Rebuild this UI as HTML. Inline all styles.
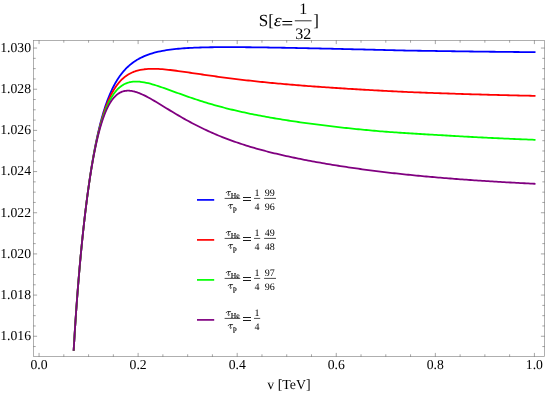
<!DOCTYPE html>
<html><head><meta charset="utf-8"><title>S plot</title>
<style>
html,body{margin:0;padding:0;background:#fff;}
body{width:545px;height:393px;overflow:hidden;font-family:"Liberation Serif",serif;}
svg{display:block;will-change:transform;transform:translateZ(0);}
svg text{font-family:"Liberation Serif",serif;fill:#000;text-rendering:geometricPrecision;}
</style></head><body>
<svg width="545" height="393" viewBox="0 0 545 393">
<rect x="0" y="0" width="545" height="393" fill="#fff"/>
<g fill="none">
<path d="M73.65,350.80 L74.15,342.19 L74.65,333.97 L75.15,326.09 L75.65,318.54 L76.15,311.29 L76.65,304.31 L77.15,297.57 L77.65,291.08 L78.15,284.79 L78.65,278.71 L79.15,272.81 L79.65,267.09 L80.15,261.53 L80.65,256.13 L81.15,250.88 L81.65,245.76 L82.15,240.78 L82.65,235.93 L83.15,231.20 L83.65,226.59 L84.15,222.09 L84.65,217.70 L85.15,213.43 L85.65,209.25 L86.15,205.18 L86.65,201.20 L87.15,197.32 L87.65,193.54 L88.15,189.85 L88.65,186.25 L89.15,182.73 L89.65,179.30 L90.15,175.96 L90.65,172.70 L91.15,169.51 L91.65,166.41 L92.15,163.39 L92.65,160.44 L93.15,157.56 L93.65,154.76 L94.15,152.03 L94.65,149.36 L95.15,146.77 L95.65,144.24 L96.15,141.77 L96.65,139.37 L97.15,137.03 L97.65,134.76 L98.15,132.54 L98.65,130.37 L99.15,128.27 L99.65,126.22 L100.15,124.22 L100.65,122.27 L101.15,120.38 L101.65,118.53 L102.15,116.74 L102.65,114.99 L103.15,113.28 L103.65,111.62 L104.15,110.01 L104.65,108.44 L105.15,106.90 L105.65,105.41 L106.15,103.96 L106.65,102.55 L107.15,101.17 L107.65,99.83 L108.15,98.52 L108.65,97.25 L109.15,96.01 L109.65,94.81 L110.15,93.63 L110.65,92.49 L111.15,91.38 L111.65,90.29 L112.15,89.23 L112.65,88.21 L113.15,87.20 L113.65,86.23 L114.15,85.27 L114.65,84.35 L115.15,83.44 L115.65,82.57 L116.15,81.71 L116.65,80.87 L117.15,80.06 L117.65,79.27 L118.15,78.49 L118.65,77.74 L119.15,77.01 L119.65,76.29 L120.15,75.59 L120.65,74.91 L121.15,74.25 L121.65,73.60 L122.15,72.97 L122.65,72.36 L123.15,71.76 L123.65,71.17 L124.15,70.61 L124.65,70.05 L125.15,69.51 L125.65,68.98 L126.15,68.46 L126.65,67.96 L127.15,67.47 L127.65,66.99 L128.15,66.52 L128.65,66.07 L129.15,65.62 L129.65,65.19 L130.15,64.77 L130.65,64.35 L131.15,63.95 L131.65,63.56 L132.15,63.17 L132.65,62.80 L133.15,62.43 L133.65,62.07 L134.15,61.73 L134.65,61.38 L135.15,61.05 L135.65,60.73 L136.15,60.41 L136.65,60.10 L137.15,59.80 L137.65,59.50 L138.15,59.21 L138.65,58.93 L139.15,58.66 L139.65,58.39 L140.15,58.13 L140.30,58.05 L142.30,57.07 L144.30,56.17 L146.30,55.35 L148.30,54.60 L150.30,53.92 L152.30,53.30 L154.30,52.73 L156.30,52.21 L158.30,51.74 L160.30,51.31 L162.30,50.91 L164.30,50.55 L166.30,50.21 L168.30,49.91 L170.30,49.63 L172.30,49.38 L174.30,49.15 L176.30,48.94 L178.30,48.74 L180.30,48.57 L182.30,48.41 L184.30,48.26 L186.30,48.13 L188.30,48.00 L190.30,47.90 L192.30,47.80 L194.30,47.71 L196.30,47.63 L198.30,47.55 L200.30,47.49 L202.30,47.43 L204.30,47.38 L206.30,47.33 L208.30,47.30 L210.30,47.26 L212.30,47.23 L214.30,47.21 L216.30,47.19 L218.30,47.17 L220.30,47.16 L222.30,47.15 L224.30,47.14 L226.30,47.14 L228.30,47.14 L230.30,47.14 L232.30,47.14 L234.30,47.15 L236.30,47.16 L238.30,47.17 L240.30,47.18 L242.30,47.19 L244.30,47.21 L246.30,47.23 L248.30,47.25 L250.30,47.27 L252.30,47.29 L254.30,47.31 L256.30,47.34 L258.30,47.36 L260.30,47.39 L262.30,47.42 L264.30,47.44 L266.30,47.47 L268.30,47.50 L270.30,47.53 L272.30,47.57 L274.30,47.60 L276.30,47.63 L278.30,47.67 L280.30,47.70 L282.30,47.74 L284.30,47.77 L286.30,47.81 L288.30,47.84 L290.30,47.88 L292.30,47.92 L294.30,47.96 L296.30,48.00 L298.30,48.04 L300.30,48.08 L302.30,48.12 L304.30,48.16 L306.30,48.20 L308.30,48.24 L310.30,48.28 L312.30,48.33 L314.30,48.37 L316.30,48.41 L318.30,48.46 L320.30,48.50 L322.30,48.54 L324.30,48.59 L326.30,48.63 L328.30,48.68 L330.30,48.72 L332.30,48.77 L334.30,48.81 L336.30,48.86 L338.30,48.91 L340.30,48.95 L342.30,49.00 L344.30,49.04 L346.30,49.09 L348.30,49.14 L350.30,49.19 L352.30,49.23 L354.30,49.28 L356.30,49.33 L358.30,49.38 L360.30,49.43 L362.30,49.47 L364.30,49.52 L366.30,49.57 L368.30,49.62 L370.30,49.67 L372.30,49.72 L374.30,49.77 L376.30,49.81 L378.30,49.86 L380.30,49.91 L382.30,49.96 L384.30,50.01 L386.30,50.06 L388.30,50.11 L390.30,50.16 L392.30,50.21 L394.30,50.26 L396.30,50.31 L398.30,50.36 L400.30,50.41 L402.30,50.46 L404.30,50.50 L406.30,50.54 L408.30,50.58 L410.30,50.61 L412.30,50.64 L414.30,50.67 L416.30,50.70 L418.30,50.73 L420.30,50.76 L422.30,50.79 L424.30,50.82 L426.30,50.85 L428.30,50.88 L430.30,50.91 L432.30,50.94 L434.30,50.97 L436.30,51.00 L438.30,51.03 L440.30,51.06 L442.30,51.09 L444.30,51.12 L446.30,51.15 L448.30,51.17 L450.30,51.20 L452.30,51.23 L454.30,51.26 L456.30,51.29 L458.30,51.31 L460.30,51.34 L462.30,51.37 L464.30,51.40 L466.30,51.42 L468.30,51.45 L470.30,51.48 L472.30,51.50 L474.30,51.53 L476.30,51.55 L478.30,51.58 L480.30,51.60 L482.30,51.63 L484.30,51.65 L486.30,51.68 L488.30,51.70 L490.30,51.73 L492.30,51.75 L494.30,51.77 L496.30,51.80 L498.30,51.82 L500.30,51.84 L502.30,51.86 L504.30,51.88 L506.30,51.90 L508.30,51.92 L510.30,51.94 L512.30,51.96 L514.30,51.98 L516.30,52.00 L518.30,52.02 L520.30,52.04 L522.30,52.06 L524.30,52.08 L526.30,52.09 L528.30,52.11 L530.30,52.13 L532.30,52.14 L534.30,52.16 L535.50,52.17" fill="none" stroke="#0000ff" stroke-width="1.8" stroke-linejoin="round" stroke-linecap="butt"/>
<path d="M73.65,350.80 L74.15,342.19 L74.65,333.97 L75.15,326.09 L75.65,318.54 L76.15,311.29 L76.65,304.31 L77.15,297.58 L77.65,291.08 L78.15,284.80 L78.65,278.72 L79.15,272.82 L79.65,267.10 L80.15,261.55 L80.65,256.15 L81.15,250.90 L81.65,245.79 L82.15,240.82 L82.65,235.97 L83.15,231.25 L83.65,226.64 L84.15,222.15 L84.65,217.78 L85.15,213.51 L85.65,209.34 L86.15,205.28 L86.65,201.32 L87.15,197.46 L87.65,193.69 L88.15,190.02 L88.65,186.44 L89.15,182.94 L89.65,179.54 L90.15,176.22 L90.65,172.98 L91.15,169.83 L91.65,166.76 L92.15,163.76 L92.65,160.85 L93.15,158.01 L93.65,155.25 L94.15,152.55 L94.65,149.93 L95.15,147.38 L95.65,144.90 L96.15,142.49 L96.65,140.14 L97.15,137.86 L97.65,135.63 L98.15,133.47 L98.65,131.37 L99.15,129.33 L99.65,127.35 L100.15,125.42 L100.65,123.54 L101.15,121.72 L101.65,119.95 L102.15,118.23 L102.65,116.57 L103.15,114.95 L103.65,113.37 L104.15,111.84 L104.65,110.36 L105.15,108.92 L105.65,107.53 L106.15,106.17 L106.65,104.86 L107.15,103.58 L107.65,102.34 L108.15,101.14 L108.65,99.98 L109.15,98.85 L109.65,97.75 L110.15,96.69 L110.65,95.67 L111.15,94.67 L111.65,93.70 L112.15,92.77 L112.65,91.86 L113.15,90.98 L113.65,90.13 L114.15,89.31 L114.65,88.51 L115.15,87.74 L115.65,86.99 L116.15,86.26 L116.65,85.56 L117.15,84.89 L117.65,84.23 L118.15,83.59 L118.65,82.98 L119.15,82.39 L119.65,81.81 L120.15,81.26 L120.65,80.72 L121.15,80.21 L121.65,79.70 L122.15,79.22 L122.65,78.75 L123.15,78.30 L123.65,77.87 L124.15,77.45 L124.65,77.04 L125.15,76.65 L125.65,76.28 L126.15,75.91 L126.65,75.56 L127.15,75.23 L127.65,74.90 L128.15,74.59 L128.65,74.29 L129.15,74.00 L129.65,73.72 L130.15,73.45 L130.65,73.19 L131.15,72.95 L131.65,72.71 L132.15,72.48 L132.65,72.26 L133.15,72.05 L133.65,71.85 L134.15,71.66 L134.65,71.48 L135.15,71.30 L135.65,71.14 L136.15,70.98 L136.65,70.82 L137.15,70.68 L137.65,70.54 L138.15,70.41 L138.65,70.28 L139.15,70.16 L139.65,70.05 L140.15,69.94 L140.30,69.91 L142.30,69.55 L144.30,69.27 L146.30,69.06 L148.30,68.92 L150.30,68.84 L152.30,68.80 L154.30,68.81 L156.30,68.87 L158.30,68.95 L160.30,69.07 L162.30,69.22 L164.30,69.39 L166.30,69.58 L168.30,69.79 L170.30,70.01 L172.30,70.25 L174.30,70.50 L176.30,70.76 L178.30,71.03 L180.30,71.30 L182.30,71.58 L184.30,71.87 L186.30,72.16 L188.30,72.45 L190.30,72.74 L192.30,73.04 L194.30,73.33 L196.30,73.63 L198.30,73.92 L200.30,74.22 L202.30,74.51 L204.30,74.80 L206.30,75.09 L208.30,75.38 L210.30,75.66 L212.30,75.94 L214.30,76.22 L216.30,76.50 L218.30,76.77 L220.30,77.05 L222.30,77.31 L224.30,77.58 L226.30,77.84 L228.30,78.10 L230.30,78.35 L232.30,78.60 L234.30,78.85 L236.30,79.10 L238.30,79.34 L240.30,79.58 L242.30,79.81 L244.30,80.04 L246.30,80.27 L248.30,80.50 L250.30,80.72 L252.30,80.94 L254.30,81.16 L256.30,81.37 L258.30,81.58 L260.30,81.79 L262.30,81.99 L264.30,82.20 L266.30,82.39 L268.30,82.59 L270.30,82.78 L272.30,82.98 L274.30,83.16 L276.30,83.35 L278.30,83.53 L280.30,83.72 L282.30,83.90 L284.30,84.07 L286.30,84.25 L288.30,84.42 L290.30,84.59 L292.30,84.76 L294.30,84.92 L296.30,85.09 L298.30,85.25 L300.30,85.41 L302.30,85.57 L304.30,85.73 L306.30,85.88 L308.30,86.03 L310.30,86.18 L312.30,86.33 L314.30,86.48 L316.30,86.63 L318.30,86.77 L320.30,86.92 L322.30,87.06 L324.30,87.20 L326.30,87.34 L328.30,87.47 L330.30,87.61 L332.30,87.74 L334.30,87.88 L336.30,88.01 L338.30,88.14 L340.30,88.27 L342.30,88.40 L344.30,88.52 L346.30,88.65 L348.30,88.78 L350.30,88.90 L352.30,89.02 L354.30,89.14 L356.30,89.26 L358.30,89.38 L360.30,89.50 L362.30,89.62 L364.30,89.73 L366.30,89.85 L368.30,89.96 L370.30,90.08 L372.30,90.19 L374.30,90.30 L376.30,90.41 L378.30,90.52 L380.30,90.63 L382.30,90.73 L384.30,90.84 L386.30,90.95 L388.30,91.05 L390.30,91.16 L392.30,91.26 L394.30,91.36 L396.30,91.47 L398.30,91.57 L400.30,91.67 L402.30,91.77 L404.30,91.86 L406.30,91.95 L408.30,92.04 L410.30,92.12 L412.30,92.20 L414.30,92.28 L416.30,92.36 L418.30,92.43 L420.30,92.51 L422.30,92.59 L424.30,92.67 L426.30,92.74 L428.30,92.81 L430.30,92.89 L432.30,92.96 L434.30,93.03 L436.30,93.11 L438.30,93.18 L440.30,93.25 L442.30,93.32 L444.30,93.39 L446.30,93.46 L448.30,93.52 L450.30,93.59 L452.30,93.66 L454.30,93.72 L456.30,93.79 L458.30,93.85 L460.30,93.92 L462.30,93.98 L464.30,94.04 L466.30,94.10 L468.30,94.17 L470.30,94.23 L472.30,94.29 L474.30,94.35 L476.30,94.40 L478.30,94.46 L480.30,94.52 L482.30,94.58 L484.30,94.63 L486.30,94.69 L488.30,94.74 L490.30,94.80 L492.30,94.85 L494.30,94.90 L496.30,94.96 L498.30,95.01 L500.30,95.06 L502.30,95.11 L504.30,95.16 L506.30,95.21 L508.30,95.26 L510.30,95.30 L512.30,95.35 L514.30,95.40 L516.30,95.44 L518.30,95.49 L520.30,95.53 L522.30,95.58 L524.30,95.62 L526.30,95.66 L528.30,95.70 L530.30,95.74 L532.30,95.78 L534.30,95.82 L535.50,95.85" fill="none" stroke="#ff0000" stroke-width="1.8" stroke-linejoin="round" stroke-linecap="butt"/>
<path d="M73.65,350.80 L74.15,342.19 L74.65,333.97 L75.15,326.10 L75.65,318.55 L76.15,311.29 L76.65,304.31 L77.15,297.58 L77.65,291.09 L78.15,284.81 L78.65,278.73 L79.15,272.83 L79.65,267.12 L80.15,261.57 L80.65,256.17 L81.15,250.93 L81.65,245.82 L82.15,240.85 L82.65,236.01 L83.15,231.29 L83.65,226.69 L84.15,222.21 L84.65,217.85 L85.15,213.59 L85.65,209.44 L86.15,205.39 L86.65,201.44 L87.15,197.59 L87.65,193.84 L88.15,190.19 L88.65,186.63 L89.15,183.15 L89.65,179.77 L90.15,176.48 L90.65,173.27 L91.15,170.14 L91.65,167.10 L92.15,164.14 L92.65,161.26 L93.15,158.46 L93.65,155.73 L94.15,153.08 L94.65,150.51 L95.15,148.00 L95.65,145.57 L96.15,143.20 L96.65,140.91 L97.15,138.68 L97.65,136.51 L98.15,134.41 L98.65,132.37 L99.15,130.39 L99.65,128.48 L100.15,126.62 L100.65,124.81 L101.15,123.06 L101.65,121.37 L102.15,119.73 L102.65,118.14 L103.15,116.61 L103.65,115.12 L104.15,113.68 L104.65,112.29 L105.15,110.94 L105.65,109.64 L106.15,108.38 L106.65,107.16 L107.15,105.99 L107.65,104.85 L108.15,103.76 L108.65,102.70 L109.15,101.68 L109.65,100.70 L110.15,99.75 L110.65,98.84 L111.15,97.96 L111.65,97.11 L112.15,96.30 L112.65,95.51 L113.15,94.76 L113.65,94.03 L114.15,93.34 L114.65,92.67 L115.15,92.03 L115.65,91.41 L116.15,90.82 L116.65,90.25 L117.15,89.71 L117.65,89.19 L118.15,88.69 L118.65,88.22 L119.15,87.77 L119.65,87.34 L120.15,86.92 L120.65,86.53 L121.15,86.16 L121.65,85.80 L122.15,85.47 L122.65,85.15 L123.15,84.84 L123.65,84.56 L124.15,84.29 L124.65,84.03 L125.15,83.79 L125.65,83.57 L126.15,83.36 L126.65,83.16 L127.15,82.98 L127.65,82.81 L128.15,82.65 L128.65,82.50 L129.15,82.37 L129.65,82.24 L130.15,82.13 L130.65,82.03 L131.15,81.94 L131.65,81.86 L132.15,81.79 L132.65,81.72 L133.15,81.67 L133.65,81.63 L134.15,81.59 L134.65,81.57 L135.15,81.55 L135.65,81.54 L136.15,81.53 L136.65,81.54 L137.15,81.55 L137.65,81.57 L138.15,81.59 L138.65,81.62 L139.15,81.66 L139.65,81.70 L140.15,81.75 L140.30,81.77 L142.30,82.02 L144.30,82.36 L146.30,82.76 L148.30,83.22 L150.30,83.73 L152.30,84.29 L154.30,84.88 L156.30,85.50 L158.30,86.14 L160.30,86.81 L162.30,87.50 L164.30,88.20 L166.30,88.91 L168.30,89.63 L170.30,90.35 L172.30,91.07 L174.30,91.80 L176.30,92.53 L178.30,93.25 L180.30,93.97 L182.30,94.69 L184.30,95.40 L186.30,96.10 L188.30,96.80 L190.30,97.49 L192.30,98.17 L194.30,98.85 L196.30,99.51 L198.30,100.16 L200.30,100.81 L202.30,101.44 L204.30,102.07 L206.30,102.68 L208.30,103.28 L210.30,103.88 L212.30,104.46 L214.30,105.03 L216.30,105.60 L218.30,106.15 L220.30,106.69 L222.30,107.23 L224.30,107.75 L226.30,108.27 L228.30,108.77 L230.30,109.27 L232.30,109.75 L234.30,110.23 L236.30,110.70 L238.30,111.16 L240.30,111.61 L242.30,112.06 L244.30,112.49 L246.30,112.92 L248.30,113.34 L250.30,113.76 L252.30,114.17 L254.30,114.57 L256.30,114.96 L258.30,115.35 L260.30,115.73 L262.30,116.10 L264.30,116.47 L266.30,116.84 L268.30,117.19 L270.30,117.55 L272.30,117.89 L274.30,118.24 L276.30,118.57 L278.30,118.90 L280.30,119.23 L282.30,119.56 L284.30,119.88 L286.30,120.19 L288.30,120.50 L290.30,120.81 L292.30,121.11 L294.30,121.41 L296.30,121.70 L298.30,122.00 L300.30,122.28 L302.30,122.57 L304.30,122.85 L306.30,123.12 L308.30,123.40 L310.30,123.67 L312.30,123.94 L314.30,124.20 L316.30,124.46 L318.30,124.72 L320.30,124.97 L322.30,125.22 L324.30,125.47 L326.30,125.72 L328.30,125.96 L330.30,126.20 L332.30,126.43 L334.30,126.67 L336.30,126.90 L338.30,127.12 L340.30,127.35 L342.30,127.57 L344.30,127.79 L346.30,128.00 L348.30,128.22 L350.30,128.43 L352.30,128.63 L354.30,128.84 L356.30,129.04 L358.30,129.24 L360.30,129.44 L362.30,129.63 L364.30,129.83 L366.30,130.02 L368.30,130.20 L370.30,130.39 L372.30,130.57 L374.30,130.75 L376.30,130.93 L378.30,131.10 L380.30,131.28 L382.30,131.43 L384.30,131.58 L386.30,131.73 L388.30,131.88 L390.30,132.03 L392.30,132.17 L394.30,132.32 L396.30,132.46 L398.30,132.60 L400.30,132.73 L402.30,132.87 L404.30,133.00 L406.30,133.14 L408.30,133.27 L410.30,133.39 L412.30,133.52 L414.30,133.65 L416.30,133.77 L418.30,133.89 L420.30,134.02 L422.30,134.14 L424.30,134.25 L426.30,134.37 L428.30,134.49 L430.30,134.60 L432.30,134.71 L434.30,134.82 L436.30,134.93 L438.30,135.04 L440.30,135.15 L442.30,135.27 L444.30,135.40 L446.30,135.52 L448.30,135.64 L450.30,135.75 L452.30,135.87 L454.30,135.99 L456.30,136.10 L458.30,136.22 L460.30,136.33 L462.30,136.44 L464.30,136.55 L466.30,136.66 L468.30,136.77 L470.30,136.88 L472.30,136.98 L474.30,137.09 L476.30,137.19 L478.30,137.29 L480.30,137.40 L482.30,137.50 L484.30,137.60 L486.30,137.70 L488.30,137.79 L490.30,137.89 L492.30,137.99 L494.30,138.08 L496.30,138.18 L498.30,138.27 L500.30,138.36 L502.30,138.45 L504.30,138.54 L506.30,138.63 L508.30,138.72 L510.30,138.81 L512.30,138.89 L514.30,138.98 L516.30,139.06 L518.30,139.15 L520.30,139.23 L522.30,139.31 L524.30,139.39 L526.30,139.47 L528.30,139.55 L530.30,139.63 L532.30,139.71 L534.30,139.78 L535.50,139.83" fill="none" stroke="#00ff00" stroke-width="1.8" stroke-linejoin="round" stroke-linecap="butt"/>
<path d="M73.65,350.80 L74.15,342.19 L74.65,333.97 L75.15,326.10 L75.65,318.55 L76.15,311.29 L76.65,304.31 L77.15,297.59 L77.65,291.09 L78.15,284.81 L78.65,278.73 L79.15,272.84 L79.65,267.13 L80.15,261.58 L80.65,256.19 L81.15,250.95 L81.65,245.84 L82.15,240.88 L82.65,236.04 L83.15,231.33 L83.65,226.74 L84.15,222.27 L84.65,217.91 L85.15,213.67 L85.65,209.53 L86.15,205.49 L86.65,201.56 L87.15,197.72 L87.65,193.99 L88.15,190.35 L88.65,186.81 L89.15,183.36 L89.65,180.00 L90.15,176.73 L90.65,173.55 L91.15,170.45 L91.65,167.44 L92.15,164.51 L92.65,161.67 L93.15,158.90 L93.65,156.21 L94.15,153.60 L94.65,151.07 L95.15,148.61 L95.65,146.22 L96.15,143.91 L96.65,141.67 L97.15,139.49 L97.65,137.38 L98.15,135.34 L98.65,133.36 L99.15,131.45 L99.65,129.60 L100.15,127.80 L100.65,126.07 L101.15,124.40 L101.65,122.78 L102.15,121.22 L102.65,119.71 L103.15,118.26 L103.65,116.86 L104.15,115.50 L104.65,114.20 L105.15,112.95 L105.65,111.74 L106.15,110.58 L106.65,109.46 L107.15,108.39 L107.65,107.35 L108.15,106.37 L108.65,105.42 L109.15,104.51 L109.65,103.63 L110.15,102.80 L110.65,102.00 L111.15,101.24 L111.65,100.51 L112.15,99.81 L112.65,99.15 L113.15,98.52 L113.65,97.92 L114.15,97.35 L114.65,96.81 L115.15,96.30 L115.65,95.81 L116.15,95.36 L116.65,94.92 L117.15,94.52 L117.65,94.13 L118.15,93.78 L118.65,93.44 L119.15,93.13 L119.65,92.84 L120.15,92.57 L120.65,92.32 L121.15,92.09 L121.65,91.88 L122.15,91.69 L122.65,91.52 L123.15,91.36 L123.65,91.23 L124.15,91.11 L124.65,91.00 L125.15,90.91 L125.65,90.84 L126.15,90.78 L126.65,90.73 L127.15,90.70 L127.65,90.69 L128.15,90.68 L128.65,90.69 L129.15,90.71 L129.65,90.74 L130.15,90.78 L130.65,90.84 L131.15,90.90 L131.65,90.98 L132.15,91.06 L132.65,91.15 L133.15,91.26 L133.65,91.37 L134.15,91.49 L134.65,91.62 L135.15,91.76 L135.65,91.90 L136.15,92.06 L136.65,92.22 L137.15,92.39 L137.65,92.56 L138.15,92.74 L138.65,92.93 L139.15,93.12 L139.65,93.32 L140.15,93.52 L140.30,93.58 L142.30,94.46 L144.30,95.41 L146.30,96.41 L148.30,97.48 L150.30,98.58 L152.30,99.72 L154.30,100.88 L156.30,102.07 L158.30,103.27 L160.30,104.49 L162.30,105.71 L164.30,106.94 L166.30,108.17 L168.30,109.39 L170.30,110.61 L172.30,111.82 L174.30,113.02 L176.30,114.21 L178.30,115.39 L180.30,116.56 L182.30,117.71 L184.30,118.85 L186.30,119.96 L188.30,121.07 L190.30,122.15 L192.30,123.22 L194.30,124.27 L196.30,125.30 L198.30,126.31 L200.30,127.31 L202.30,128.29 L204.30,129.24 L206.30,130.18 L208.30,131.11 L210.30,132.01 L212.30,132.90 L214.30,133.77 L216.30,134.62 L218.30,135.46 L220.30,136.27 L222.30,137.08 L224.30,137.86 L226.30,138.63 L228.30,139.39 L230.30,140.13 L232.30,140.85 L234.30,141.57 L236.30,142.26 L238.30,142.94 L240.30,143.61 L242.30,144.27 L244.30,144.91 L246.30,145.55 L248.30,146.16 L250.30,146.77 L252.30,147.37 L254.30,147.95 L256.30,148.53 L258.30,149.09 L260.30,149.64 L262.30,150.19 L264.30,150.72 L266.30,151.25 L268.30,151.76 L270.30,152.27 L272.30,152.77 L274.30,153.26 L276.30,153.74 L278.30,154.21 L280.30,154.68 L282.30,155.14 L284.30,155.59 L286.30,156.04 L288.30,156.48 L290.30,156.91 L292.30,157.33 L294.30,157.75 L296.30,158.17 L298.30,158.58 L300.30,158.98 L302.30,159.38 L304.30,159.77 L306.30,160.16 L308.30,160.54 L310.30,160.92 L312.30,161.29 L314.30,161.66 L316.30,162.02 L318.30,162.38 L320.30,162.73 L322.30,163.08 L324.30,163.43 L326.30,163.77 L328.30,164.11 L330.30,164.44 L332.30,164.77 L334.30,165.10 L336.30,165.42 L338.30,165.74 L340.30,166.05 L342.30,166.36 L344.30,166.67 L346.30,166.97 L348.30,167.27 L350.30,167.57 L352.30,167.86 L354.30,168.15 L356.30,168.43 L358.30,168.72 L360.30,169.00 L362.30,169.27 L364.30,169.54 L366.30,169.81 L368.30,170.08 L370.30,170.34 L372.30,170.60 L374.30,170.86 L376.30,171.11 L378.30,171.36 L380.30,171.61 L382.30,171.85 L384.30,172.09 L386.30,172.33 L388.30,172.56 L390.30,172.79 L392.30,173.02 L394.30,173.25 L396.30,173.47 L398.30,173.69 L400.30,173.91 L402.30,174.12 L404.30,174.33 L406.30,174.54 L408.30,174.75 L410.30,174.95 L412.30,175.15 L414.30,175.35 L416.30,175.54 L418.30,175.74 L420.30,175.93 L422.30,176.12 L424.30,176.30 L426.30,176.49 L428.30,176.67 L430.30,176.85 L432.30,177.02 L434.30,177.20 L436.30,177.37 L438.30,177.54 L440.30,177.71 L442.30,177.87 L444.30,178.04 L446.30,178.20 L448.30,178.36 L450.30,178.52 L452.30,178.67 L454.30,178.83 L456.30,178.98 L458.30,179.13 L460.30,179.28 L462.30,179.43 L464.30,179.57 L466.30,179.72 L468.30,179.86 L470.30,180.00 L472.30,180.14 L474.30,180.28 L476.30,180.41 L478.30,180.55 L480.30,180.68 L482.30,180.81 L484.30,180.94 L486.30,181.07 L488.30,181.20 L490.30,181.32 L492.30,181.45 L494.30,181.57 L496.30,181.69 L498.30,181.81 L500.30,181.93 L502.30,182.05 L504.30,182.16 L506.30,182.28 L508.30,182.39 L510.30,182.50 L512.30,182.61 L514.30,182.72 L516.30,182.83 L518.30,182.94 L520.30,183.04 L522.30,183.15 L524.30,183.25 L526.30,183.35 L528.30,183.45 L530.30,183.55 L532.30,183.65 L534.30,183.75 L535.50,183.81" fill="none" stroke="#800080" stroke-width="1.8" stroke-linejoin="round" stroke-linecap="butt"/>
</g>
<g stroke="#000" stroke-opacity="0.45" stroke-width="0.7" fill="none">
<rect x="33.5" y="40.5" width="511.0" height="316.0"/>
</g>
<g stroke="#000" stroke-opacity="0.6" stroke-width="0.6" fill="none">
<line x1="39.05" y1="356.50" x2="39.05" y2="352.90"/><line x1="39.05" y1="40.50" x2="39.05" y2="44.10"/><line x1="63.82" y1="356.50" x2="63.82" y2="354.30"/><line x1="63.82" y1="40.50" x2="63.82" y2="42.70"/><line x1="88.59" y1="356.50" x2="88.59" y2="354.30"/><line x1="88.59" y1="40.50" x2="88.59" y2="42.70"/><line x1="113.35" y1="356.50" x2="113.35" y2="354.30"/><line x1="113.35" y1="40.50" x2="113.35" y2="42.70"/><line x1="138.12" y1="356.50" x2="138.12" y2="352.90"/><line x1="138.12" y1="40.50" x2="138.12" y2="44.10"/><line x1="162.89" y1="356.50" x2="162.89" y2="354.30"/><line x1="162.89" y1="40.50" x2="162.89" y2="42.70"/><line x1="187.66" y1="356.50" x2="187.66" y2="354.30"/><line x1="187.66" y1="40.50" x2="187.66" y2="42.70"/><line x1="212.42" y1="356.50" x2="212.42" y2="354.30"/><line x1="212.42" y1="40.50" x2="212.42" y2="42.70"/><line x1="237.19" y1="356.50" x2="237.19" y2="352.90"/><line x1="237.19" y1="40.50" x2="237.19" y2="44.10"/><line x1="261.96" y1="356.50" x2="261.96" y2="354.30"/><line x1="261.96" y1="40.50" x2="261.96" y2="42.70"/><line x1="286.73" y1="356.50" x2="286.73" y2="354.30"/><line x1="286.73" y1="40.50" x2="286.73" y2="42.70"/><line x1="311.49" y1="356.50" x2="311.49" y2="354.30"/><line x1="311.49" y1="40.50" x2="311.49" y2="42.70"/><line x1="336.26" y1="356.50" x2="336.26" y2="352.90"/><line x1="336.26" y1="40.50" x2="336.26" y2="44.10"/><line x1="361.03" y1="356.50" x2="361.03" y2="354.30"/><line x1="361.03" y1="40.50" x2="361.03" y2="42.70"/><line x1="385.80" y1="356.50" x2="385.80" y2="354.30"/><line x1="385.80" y1="40.50" x2="385.80" y2="42.70"/><line x1="410.56" y1="356.50" x2="410.56" y2="354.30"/><line x1="410.56" y1="40.50" x2="410.56" y2="42.70"/><line x1="435.33" y1="356.50" x2="435.33" y2="352.90"/><line x1="435.33" y1="40.50" x2="435.33" y2="44.10"/><line x1="460.10" y1="356.50" x2="460.10" y2="354.30"/><line x1="460.10" y1="40.50" x2="460.10" y2="42.70"/><line x1="484.87" y1="356.50" x2="484.87" y2="354.30"/><line x1="484.87" y1="40.50" x2="484.87" y2="42.70"/><line x1="509.63" y1="356.50" x2="509.63" y2="354.30"/><line x1="509.63" y1="40.50" x2="509.63" y2="42.70"/><line x1="534.40" y1="356.50" x2="534.40" y2="352.90"/><line x1="534.40" y1="40.50" x2="534.40" y2="44.10"/><line x1="33.50" y1="346.55" x2="35.70" y2="346.55"/><line x1="544.50" y1="346.55" x2="542.30" y2="346.55"/><line x1="33.50" y1="336.25" x2="37.10" y2="336.25"/><line x1="544.50" y1="336.25" x2="540.90" y2="336.25"/><line x1="33.50" y1="325.96" x2="35.70" y2="325.96"/><line x1="544.50" y1="325.96" x2="542.30" y2="325.96"/><line x1="33.50" y1="315.67" x2="35.70" y2="315.67"/><line x1="544.50" y1="315.67" x2="542.30" y2="315.67"/><line x1="33.50" y1="305.38" x2="35.70" y2="305.38"/><line x1="544.50" y1="305.38" x2="542.30" y2="305.38"/><line x1="33.50" y1="295.08" x2="37.10" y2="295.08"/><line x1="544.50" y1="295.08" x2="540.90" y2="295.08"/><line x1="33.50" y1="284.79" x2="35.70" y2="284.79"/><line x1="544.50" y1="284.79" x2="542.30" y2="284.79"/><line x1="33.50" y1="274.50" x2="35.70" y2="274.50"/><line x1="544.50" y1="274.50" x2="542.30" y2="274.50"/><line x1="33.50" y1="264.20" x2="35.70" y2="264.20"/><line x1="544.50" y1="264.20" x2="542.30" y2="264.20"/><line x1="33.50" y1="253.91" x2="37.10" y2="253.91"/><line x1="544.50" y1="253.91" x2="540.90" y2="253.91"/><line x1="33.50" y1="243.62" x2="35.70" y2="243.62"/><line x1="544.50" y1="243.62" x2="542.30" y2="243.62"/><line x1="33.50" y1="233.32" x2="35.70" y2="233.32"/><line x1="544.50" y1="233.32" x2="542.30" y2="233.32"/><line x1="33.50" y1="223.03" x2="35.70" y2="223.03"/><line x1="544.50" y1="223.03" x2="542.30" y2="223.03"/><line x1="33.50" y1="212.74" x2="37.10" y2="212.74"/><line x1="544.50" y1="212.74" x2="540.90" y2="212.74"/><line x1="33.50" y1="202.45" x2="35.70" y2="202.45"/><line x1="544.50" y1="202.45" x2="542.30" y2="202.45"/><line x1="33.50" y1="192.15" x2="35.70" y2="192.15"/><line x1="544.50" y1="192.15" x2="542.30" y2="192.15"/><line x1="33.50" y1="181.86" x2="35.70" y2="181.86"/><line x1="544.50" y1="181.86" x2="542.30" y2="181.86"/><line x1="33.50" y1="171.57" x2="37.10" y2="171.57"/><line x1="544.50" y1="171.57" x2="540.90" y2="171.57"/><line x1="33.50" y1="161.27" x2="35.70" y2="161.27"/><line x1="544.50" y1="161.27" x2="542.30" y2="161.27"/><line x1="33.50" y1="150.98" x2="35.70" y2="150.98"/><line x1="544.50" y1="150.98" x2="542.30" y2="150.98"/><line x1="33.50" y1="140.69" x2="35.70" y2="140.69"/><line x1="544.50" y1="140.69" x2="542.30" y2="140.69"/><line x1="33.50" y1="130.39" x2="37.10" y2="130.39"/><line x1="544.50" y1="130.39" x2="540.90" y2="130.39"/><line x1="33.50" y1="120.10" x2="35.70" y2="120.10"/><line x1="544.50" y1="120.10" x2="542.30" y2="120.10"/><line x1="33.50" y1="109.81" x2="35.70" y2="109.81"/><line x1="544.50" y1="109.81" x2="542.30" y2="109.81"/><line x1="33.50" y1="99.52" x2="35.70" y2="99.52"/><line x1="544.50" y1="99.52" x2="542.30" y2="99.52"/><line x1="33.50" y1="89.22" x2="37.10" y2="89.22"/><line x1="544.50" y1="89.22" x2="540.90" y2="89.22"/><line x1="33.50" y1="78.93" x2="35.70" y2="78.93"/><line x1="544.50" y1="78.93" x2="542.30" y2="78.93"/><line x1="33.50" y1="68.64" x2="35.70" y2="68.64"/><line x1="544.50" y1="68.64" x2="542.30" y2="68.64"/><line x1="33.50" y1="58.34" x2="35.70" y2="58.34"/><line x1="544.50" y1="58.34" x2="542.30" y2="58.34"/><line x1="33.50" y1="48.05" x2="37.10" y2="48.05"/><line x1="544.50" y1="48.05" x2="540.90" y2="48.05"/>
</g>
<g font-size="13.7"><text x="39.05" y="369.4" text-anchor="middle">0.0</text><text x="138.12" y="369.4" text-anchor="middle">0.2</text><text x="237.19" y="369.4" text-anchor="middle">0.4</text><text x="336.26" y="369.4" text-anchor="middle">0.6</text><text x="435.33" y="369.4" text-anchor="middle">0.8</text><text x="534.40" y="369.4" text-anchor="middle">1.0</text><text x="31.0" y="340.10" text-anchor="end">1.016</text><text x="31.0" y="298.93" text-anchor="end">1.018</text><text x="31.0" y="257.76" text-anchor="end">1.020</text><text x="31.0" y="216.59" text-anchor="end">1.022</text><text x="31.0" y="175.42" text-anchor="end">1.024</text><text x="31.0" y="134.24" text-anchor="end">1.026</text><text x="31.0" y="93.07" text-anchor="end">1.028</text><text x="31.0" y="51.90" text-anchor="end">1.030</text></g>
<text x="289" y="389.4" font-size="13.9" text-anchor="middle">v [TeV]</text>
<text x="258.8" y="26.3" font-size="17">S</text><text x="268.3" y="26.3" font-size="17">[</text><text transform="translate(273.8,26.3) scale(1.25,1.08)" x="0" y="0" font-size="16" font-style="italic">ε</text><rect x="282.4" y="21" width="9.8" height="1" fill="#000"/><rect x="282.4" y="24.3" width="9.8" height="1" fill="#000"/><text x="303.2" y="13.9" font-size="16" text-anchor="middle">1</text><line x1="294.8" y1="20.8" x2="311.6" y2="20.8" stroke="#000" stroke-width="0.8"/><text x="303.2" y="39.3" font-size="16" text-anchor="middle">32</text><text x="313.2" y="26.3" font-size="17">]</text>
<line x1="197" y1="199.9" x2="214.2" y2="199.9" stroke="#0000ff" stroke-width="1.7"/><g transform="translate(0,0)"><path d="M0.1,1.5 C0.4,0.7 0.8,0.4 1.5,0.4 L4.5,0.4 M2.6,0.4 L1.95,3.3 C1.8,4.2 2.4,4.6 3.2,3.8" transform="translate(226.2,191.2)" fill="none" stroke="#000" stroke-width="0.75" stroke-linecap="round"/><text x="230.8" y="197.6" font-size="7.6" stroke="#000" stroke-width="0.15">He</text><line x1="224.6" y1="198.4" x2="240.2" y2="198.4" stroke="#000" stroke-width="0.7"/><path d="M0.1,1.5 C0.4,0.7 0.8,0.4 1.5,0.4 L4.5,0.4 M2.6,0.4 L1.95,3.3 C1.8,4.2 2.4,4.6 3.2,3.8" transform="translate(228.2,204.2)" fill="none" stroke="#000" stroke-width="0.75" stroke-linecap="round"/><text x="233.0" y="211.3" font-size="7.4" stroke="#000" stroke-width="0.15">p</text><rect x="243" y="197.05" width="8" height="0.9" fill="#000"/><rect x="243" y="200.05" width="8" height="0.9" fill="#000"/><text x="257.1" y="195.8" font-size="10" text-anchor="middle">1</text><line x1="254" y1="198.4" x2="260.2" y2="198.4" stroke="#000" stroke-width="0.7"/><text x="257.1" y="209.6" font-size="10" text-anchor="middle">4</text><text x="269.8" y="195.8" font-size="10" text-anchor="middle">99</text><line x1="264.1" y1="198.4" x2="276" y2="198.4" stroke="#000" stroke-width="0.7"/><text x="269.8" y="209.6" font-size="10" text-anchor="middle">96</text></g><line x1="197" y1="239.9" x2="214.2" y2="239.9" stroke="#ff0000" stroke-width="1.7"/><g transform="translate(0,40)"><path d="M0.1,1.5 C0.4,0.7 0.8,0.4 1.5,0.4 L4.5,0.4 M2.6,0.4 L1.95,3.3 C1.8,4.2 2.4,4.6 3.2,3.8" transform="translate(226.2,191.2)" fill="none" stroke="#000" stroke-width="0.75" stroke-linecap="round"/><text x="230.8" y="197.6" font-size="7.6" stroke="#000" stroke-width="0.15">He</text><line x1="224.6" y1="198.4" x2="240.2" y2="198.4" stroke="#000" stroke-width="0.7"/><path d="M0.1,1.5 C0.4,0.7 0.8,0.4 1.5,0.4 L4.5,0.4 M2.6,0.4 L1.95,3.3 C1.8,4.2 2.4,4.6 3.2,3.8" transform="translate(228.2,204.2)" fill="none" stroke="#000" stroke-width="0.75" stroke-linecap="round"/><text x="233.0" y="211.3" font-size="7.4" stroke="#000" stroke-width="0.15">p</text><rect x="243" y="197.05" width="8" height="0.9" fill="#000"/><rect x="243" y="200.05" width="8" height="0.9" fill="#000"/><text x="257.1" y="195.8" font-size="10" text-anchor="middle">1</text><line x1="254" y1="198.4" x2="260.2" y2="198.4" stroke="#000" stroke-width="0.7"/><text x="257.1" y="209.6" font-size="10" text-anchor="middle">4</text><text x="269.8" y="195.8" font-size="10" text-anchor="middle">49</text><line x1="264.1" y1="198.4" x2="276" y2="198.4" stroke="#000" stroke-width="0.7"/><text x="269.8" y="209.6" font-size="10" text-anchor="middle">48</text></g><line x1="197" y1="279.9" x2="214.2" y2="279.9" stroke="#00ff00" stroke-width="1.7"/><g transform="translate(0,80)"><path d="M0.1,1.5 C0.4,0.7 0.8,0.4 1.5,0.4 L4.5,0.4 M2.6,0.4 L1.95,3.3 C1.8,4.2 2.4,4.6 3.2,3.8" transform="translate(226.2,191.2)" fill="none" stroke="#000" stroke-width="0.75" stroke-linecap="round"/><text x="230.8" y="197.6" font-size="7.6" stroke="#000" stroke-width="0.15">He</text><line x1="224.6" y1="198.4" x2="240.2" y2="198.4" stroke="#000" stroke-width="0.7"/><path d="M0.1,1.5 C0.4,0.7 0.8,0.4 1.5,0.4 L4.5,0.4 M2.6,0.4 L1.95,3.3 C1.8,4.2 2.4,4.6 3.2,3.8" transform="translate(228.2,204.2)" fill="none" stroke="#000" stroke-width="0.75" stroke-linecap="round"/><text x="233.0" y="211.3" font-size="7.4" stroke="#000" stroke-width="0.15">p</text><rect x="243" y="197.05" width="8" height="0.9" fill="#000"/><rect x="243" y="200.05" width="8" height="0.9" fill="#000"/><text x="257.1" y="195.8" font-size="10" text-anchor="middle">1</text><line x1="254" y1="198.4" x2="260.2" y2="198.4" stroke="#000" stroke-width="0.7"/><text x="257.1" y="209.6" font-size="10" text-anchor="middle">4</text><text x="269.8" y="195.8" font-size="10" text-anchor="middle">97</text><line x1="264.1" y1="198.4" x2="276" y2="198.4" stroke="#000" stroke-width="0.7"/><text x="269.8" y="209.6" font-size="10" text-anchor="middle">96</text></g><line x1="197" y1="319.9" x2="214.2" y2="319.9" stroke="#800080" stroke-width="1.7"/><g transform="translate(0,120)"><path d="M0.1,1.5 C0.4,0.7 0.8,0.4 1.5,0.4 L4.5,0.4 M2.6,0.4 L1.95,3.3 C1.8,4.2 2.4,4.6 3.2,3.8" transform="translate(226.2,191.2)" fill="none" stroke="#000" stroke-width="0.75" stroke-linecap="round"/><text x="230.8" y="197.6" font-size="7.6" stroke="#000" stroke-width="0.15">He</text><line x1="224.6" y1="198.4" x2="240.2" y2="198.4" stroke="#000" stroke-width="0.7"/><path d="M0.1,1.5 C0.4,0.7 0.8,0.4 1.5,0.4 L4.5,0.4 M2.6,0.4 L1.95,3.3 C1.8,4.2 2.4,4.6 3.2,3.8" transform="translate(228.2,204.2)" fill="none" stroke="#000" stroke-width="0.75" stroke-linecap="round"/><text x="233.0" y="211.3" font-size="7.4" stroke="#000" stroke-width="0.15">p</text><rect x="243" y="197.05" width="8" height="0.9" fill="#000"/><rect x="243" y="200.05" width="8" height="0.9" fill="#000"/><text x="257.1" y="195.8" font-size="10" text-anchor="middle">1</text><line x1="254" y1="198.4" x2="260.2" y2="198.4" stroke="#000" stroke-width="0.7"/><text x="257.1" y="209.6" font-size="10" text-anchor="middle">4</text></g>
</svg>
</body></html>
